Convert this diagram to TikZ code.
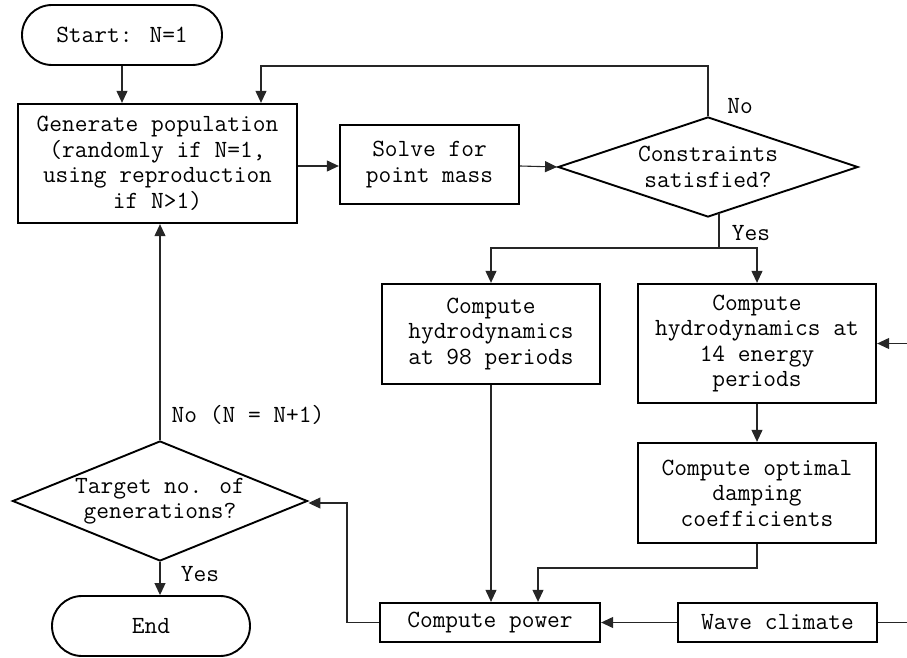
\documentclass[tikz,border=0pt]{standalone}
\usetikzlibrary{arrows.meta,shapes.geometric,calc}
\begin{document}
\begin{tikzpicture}[x=1pt,y=-1pt,
  every node/.style={font=\ttfamily\fontsize{24.7}{25.5}\selectfont, align=center},
  procbox/.style={draw, line width=2.3pt, inner sep=0pt},
  termbox/.style={draw, line width=1.9pt, rounded corners=30pt, inner sep=0pt, minimum height=60pt},
  decision/.style={draw, diamond, line width=1.9pt, inner sep=0pt},
  conn/.style={line width=1.1pt, black!85, -{Triangle[length=12pt,width=11pt]}},
  plain/.style={line width=1.1pt, black!85},
  lbl/.style={inner sep=0pt}]
\useasboundingbox (0,0) rectangle (907,658);
\clip (0,0) rectangle (907,658);

% nodes
\node[termbox, minimum width=200pt] (start) at (122,35) {Start: N=1};
\node[procbox, minimum width=279pt, minimum height=119pt] (gen) at (157.5,163.5)
  {Generate population\\(randomly if N=1,\\using reproduction\\if N>1)};
\node[procbox, minimum width=179pt, minimum height=79pt] (solve) at (429.5,164.5)
  {Solve for\\point mass};
\node[decision, minimum width=300pt, minimum height=100pt] (dia) at (708,167) {};
\node[lbl] (diat) at (dia) {Constraints\\satisfied?};
\node[procbox, minimum width=218pt, minimum height=100pt] (h98) at (491,334)
  {Compute\\hydrodynamics\\at 98 periods};
\node[procbox, minimum width=238pt, minimum height=119pt] (h14) at (757,343.5)
  {Compute\\hydrodynamics at\\14 energy\\periods};
\node[procbox, minimum width=238pt, minimum height=100pt] (damp) at (757,493)
  {Compute optimal\\damping\\coefficients};
\node[procbox, minimum width=220pt, minimum height=39pt] (power) at (490,622.5)
  {Compute power};
\node[procbox, minimum width=199pt, minimum height=39pt] (wave) at (777.5,622.5)
  {Wave climate};
\node[decision, minimum width=295pt, minimum height=120pt] (tgt) at (160,501) {};
\node[lbl] (tgtt) at (tgt) {Target no. of\\generations?};
\node[termbox, minimum width=198pt] (end) at (151,626) {End};

% labels
\node[lbl] (lno) at (740,106) {No};
\node[lbl] (lyes) at (751,233) {Yes};
\node[lbl] (lno2) at (248,415) {No (N = N+1)};
\node[lbl] (lyes2) at (200,574) {Yes};

% coordinates
\coordinate (loopc) at (261,66);
\coordinate (dyes) at (719,213.3);
\coordinate (split) at (719,248);
\coordinate (dp) at (538,568);
\coordinate (pl) at (347,503);
\coordinate (wr) at (925,622.5);

% connectors
\draw[conn] (start) -- (start |- gen.north);
\draw[conn] (gen.east |- 0,166) -- (solve.west |- 0,166);
\draw[conn] (solve.east |- 0,166) -- (dia.west);
\draw[conn] (dia.north) |- (loopc) -- (loopc |- gen.north);
\draw[plain] (dyes) -- (split);
\draw[conn] (split) -| (h98.north);
\draw[conn] (split) -| (h14.north);
\draw[conn] (h14) -- (damp);
\draw[conn] (damp.south) |- (dp) -- (dp |- power.north);
\draw[conn] (h98.south) -- (h98.south |- power.north);
\draw[conn] (wave.west) -- (power.east);
\draw[conn] (wave.east) -- (wr) |- (h14.east);
\draw[conn] (power.west) -| (pl) -- (pl -| tgt.east);
\draw[conn] (tgt.north) -- (tgt.north |- gen.south);
\draw[conn] (tgt.south) -- (tgt.south |- end.north);
\end{tikzpicture}
\end{document}
